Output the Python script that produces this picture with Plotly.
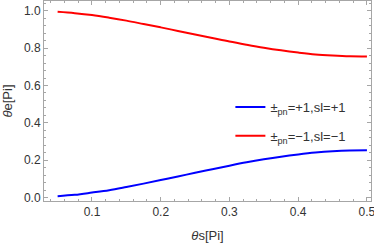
import plotly.graph_objects as go

theta_s = [0.05, 0.075, 0.10, 0.125, 0.15, 0.175, 0.20, 0.225, 0.25, 0.275,
           0.30, 0.325, 0.35, 0.375, 0.40, 0.425, 0.45, 0.475, 0.50]
theta_e_plus = [0.008, 0.015, 0.027, 0.040, 0.057, 0.075, 0.094, 0.113, 0.133, 0.152,
                0.171, 0.189, 0.205, 0.219, 0.231, 0.241, 0.248, 0.252, 0.253]
theta_e_minus = [0.994, 0.987, 0.977, 0.963, 0.947, 0.929, 0.911, 0.892, 0.873, 0.854,
                 0.835, 0.818, 0.802, 0.788, 0.776, 0.766, 0.760, 0.756, 0.755]
name_plus = "±<sub>pn</sub>=+1,sl=+1"
name_minus = "±<sub>pn</sub>=−1,sl=−1"
x_ticks = [0.1, 0.2, 0.3, 0.4, 0.5]
y_ticks = [0.0, 0.2, 0.4, 0.6, 0.8, 1.0]

fig = go.Figure()
fig.add_trace(go.Scatter(x=theta_s, y=theta_e_plus, mode="lines", name=name_plus,
                         legendgroup="a",
                         line=dict(color="#0000FF", width=2, shape="spline")))
fig.add_trace(go.Scatter(x=theta_s, y=theta_e_minus, mode="lines", name=name_minus,
                         legendgroup="b",
                         line=dict(color="#FF0000", width=2, shape="spline")))

frame = "#a6a6a6"
font = dict(family="Liberation Sans, Arial, sans-serif", size=12, color="#333333")
title_font = dict(family="Liberation Sans, Arial, sans-serif", size=13, color="#333333")
axis_common = dict(showline=True, linecolor=frame, linewidth=1, mirror="allticks",
                   ticks="inside", ticklen=4, tickcolor=frame, tickwidth=1,
                   showgrid=False, zeroline=False, tickfont=font, automargin=False,
                   ticklabeloverflow="allow")

fig.update_xaxes(range=[0.0302, 0.5059], tickvals=x_ticks,
                 ticktext=[f"{v:.1f}" for v in x_ticks],
                 minor=dict(ticks="inside", ticklen=2, tickcolor=frame, dtick=0.02, tick0=0),
                 title=dict(text="<i>θ</i>s[Pi]", font=title_font, standoff=12), **axis_common)
fig.update_yaxes(range=[-0.018, 1.052], tickvals=y_ticks,
                 ticktext=[f"{v:.1f}" for v in y_ticks],
                 minor=dict(ticks="inside", ticklen=2, tickcolor=frame, dtick=0.04, tick0=0),
                 title=dict(text="<i>θ</i>e[Pi]", font=title_font, standoff=9), **axis_common)

fig.update_layout(
    width=374, height=247,
    margin=dict(l=44, r=3, t=1, b=46),
    paper_bgcolor="white", plot_bgcolor="white",
    font=font,
    showlegend=True,
    legend=dict(x=0.57, y=0.545, xanchor="left", yanchor="top",
                bgcolor="rgba(0,0,0,0)", font=title_font, itemwidth=30,
                tracegroupgap=9),
)
fig.write_html("out.html", config={"displayModeBar": False},
               post_script="document.body.style.margin='0';document.body.style.overflow='hidden';")
